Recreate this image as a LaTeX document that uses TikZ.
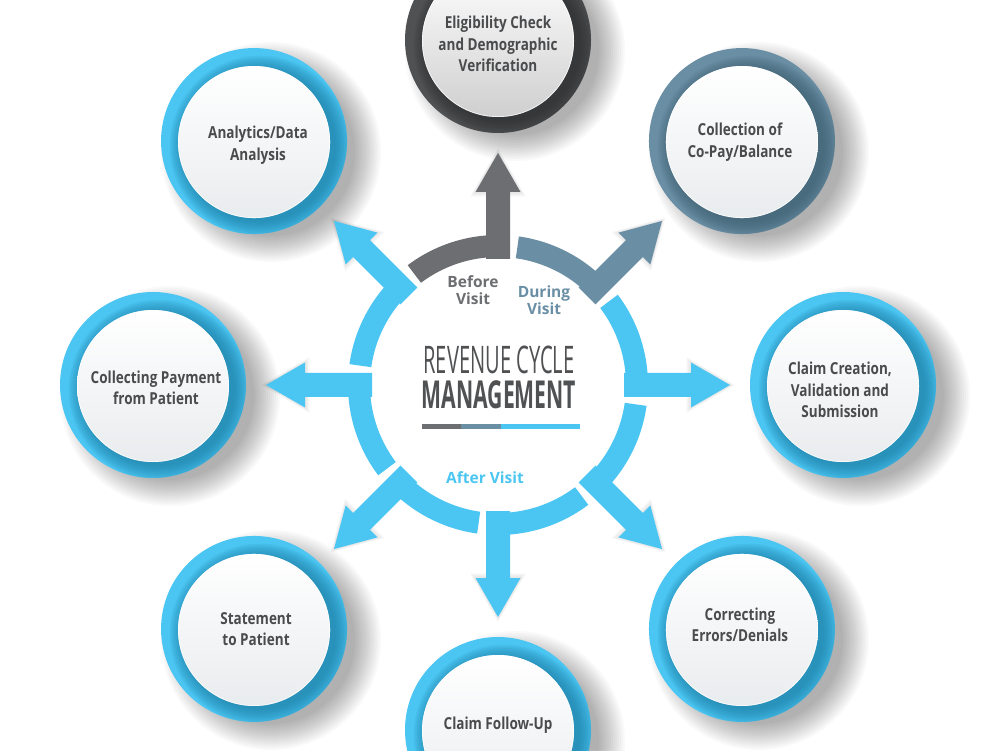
\documentclass[tikz,border=0pt]{standalone}
\usepackage{fontspec}
\usetikzlibrary{calc}
\setmainfont{Open Sans}
\newfontfamily\satfont[FakeStretch=0.82]{Open Sans}
\newfontfamily\titlethin[FakeStretch=0.53]{Open Sans}
\newfontfamily\titlebold[FakeStretch=0.55]{Open Sans}

\definecolor{rcmblue}{HTML}{4BC6F3}
\definecolor{rcmbluedark}{HTML}{1C7FA6}
\definecolor{rcmsteel}{HTML}{6A8FA5}
\definecolor{rcmsteeldark}{HTML}{3E5F70}
\definecolor{rcmgray}{HTML}{6D6E71}
\definecolor{rcmgraydark}{HTML}{2E2F31}
\definecolor{rcmring}{HTML}{505153}
\definecolor{rcmtext}{HTML}{4A4B4D}
\definecolor{rcmtitle}{HTML}{505153}
\definecolor{rcmdisc}{HTML}{E9ECEE}
\definecolor{rcmdiscgray}{HTML}{CFCFCF}

\tikzset{
  sattext/.style={font={\satfont\bfseries\fontsize{16.5}{21.5}\selectfont},
    text=rcmtext, align=center, inner sep=0pt},
  phase/.style={font={\bfseries\fontsize{15.5}{16.5}\selectfont},
    align=center, inner sep=0pt},
}

% one satellite: name, angle, ring colour, ring shade colour, disc bottom colour, text offset, text
\newcommand\rcmsat[7]{%
  \coordinate (#1-c) at ($(O)+(#2:345)$);
  \fill[#3] (#1-c) circle (93);
  \begin{scope}
    \clip (#1-c) circle (93);
    \foreach \i in {0,...,9}
      \fill[#4,opacity=0.11] ($(#1-c)+(6,-5)$) circle ({76+1.6*\i});
  \end{scope}
  \shade[top color=white, bottom color=#5] ($(#1-c)+(0,-1)$) circle (76);
  \draw[white,opacity=0.7,line width=0.8pt] ($(#1-c)+(0,-1)$) circle (75.6);
  \node[sattext] (#1) at ($(#1-c)+(#6)$) {#7};
}

\begin{document}
\begin{tikzpicture}[x=1pt,y=1pt]
\useasboundingbox (0,0) rectangle (1000,750);
\clip (0,0) rectangle (1000,750);
\fill[white] (0,0) rectangle (1000,750);
\coordinate (O) at (498,365);

% soft shadows cast by the satellites, falling to the lower right
\foreach \a in {90,45,0,-45,-90,-135,180,135}
  \foreach \i in {0,...,13}
    \fill[black,opacity=0.024] ($(O)+(\a:345)+(17,-11)$) circle ({84+2*\i});

% faint halo around the arrow heads
\foreach \a in {90,45,0,-45,-90,-135,180,135}
  \foreach \s in {1.08,1.16,1.24}
    \fill[black,opacity=0.03,shift={(O)},rotate=\a]
      ($(212,0)+\s*(-19,-22.5)$) -- ($(212,0)+\s*(20,0)$) -- ($(212,0)+\s*(-19,22.5)$) -- cycle;

% ring segments, each with its outward arrow
\foreach \a/\c in {90/rcmgray,45/rcmsteel,0/rcmblue,-45/rcmblue,-90/rcmblue,-135/rcmblue,180/rcmblue,135/rcmblue}{
  \pgfmathsetmacro\b{\a+37}
  \fill[\c,shift={(O)}] (\a:150) arc[start angle=\a,end angle=\b,radius=150]
    -- (\b:128) arc[start angle=\b,end angle=\a,radius=128] -- cycle;
  \fill[\c,shift={(O)},rotate=\a] (126,-12) -- (193,-12) -- (193,-22.5) -- (232,0)
    -- (193,22.5) -- (193,12) -- (126,12) -- cycle;
}

% satellites
\rcmsat{elig}{90}{rcmring}{rcmgraydark}{rcmdiscgray}{0,-4}{Eligibility Check\\and Demographic\\Verification}
\rcmsat{copay}{45}{rcmsteel}{rcmsteeldark}{rcmdisc}{-2,-1}{Collection of\\Co-Pay/Balance}
\rcmsat{claim}{0}{rcmblue}{rcmbluedark}{rcmdisc}{-3,-5}{Claim Creation,\\Validation and\\Submission}
\rcmsat{correct}{-45}{rcmblue}{rcmbluedark}{rcmdisc}{-2,4}{Correcting\\Errors/Denials}
\rcmsat{follow}{-90}{rcmblue}{rcmbluedark}{rcmdisc}{0,5}{Claim Follow-Up}
\rcmsat{statement}{-135}{rcmblue}{rcmbluedark}{rcmdisc}{2,0}{Statement\\to Patient}
\rcmsat{payment}{180}{rcmblue}{rcmbluedark}{rcmdisc}{3,-3}{Collecting Payment\\from Patient}
\rcmsat{analytics}{135}{rcmblue}{rcmbluedark}{rcmdisc}{4,-4}{Analytics/Data\\Analysis}

% phase labels
\node[phase,text=rcmgray] (before) at (473,460) {Before\\Visit};
\node[phase,text=rcmsteel] (during) at (544,450) {During\\Visit};
\node[phase,text=rcmblue] (after) at (485,272) {After Visit};

% title
\node[font={\titlethin\fontsize{38}{38}\selectfont},text=rcmtitle,anchor=base,inner sep=0pt]
  (title1) at (499,376) {REVENUE CYCLE};
\node[font={\titlebold\bfseries\fontsize{38.5}{38.5}\selectfont},text=rcmtitle,anchor=base,inner sep=0pt]
  (title2) at (499,341) {MANAGEMENT};
\fill[rcmgray] (422,321) rectangle (461,326);
\fill[rcmsteel] (461,321) rectangle (501,326);
\fill[rcmblue] (501,321) rectangle (580,326);
\end{tikzpicture}
\end{document}
